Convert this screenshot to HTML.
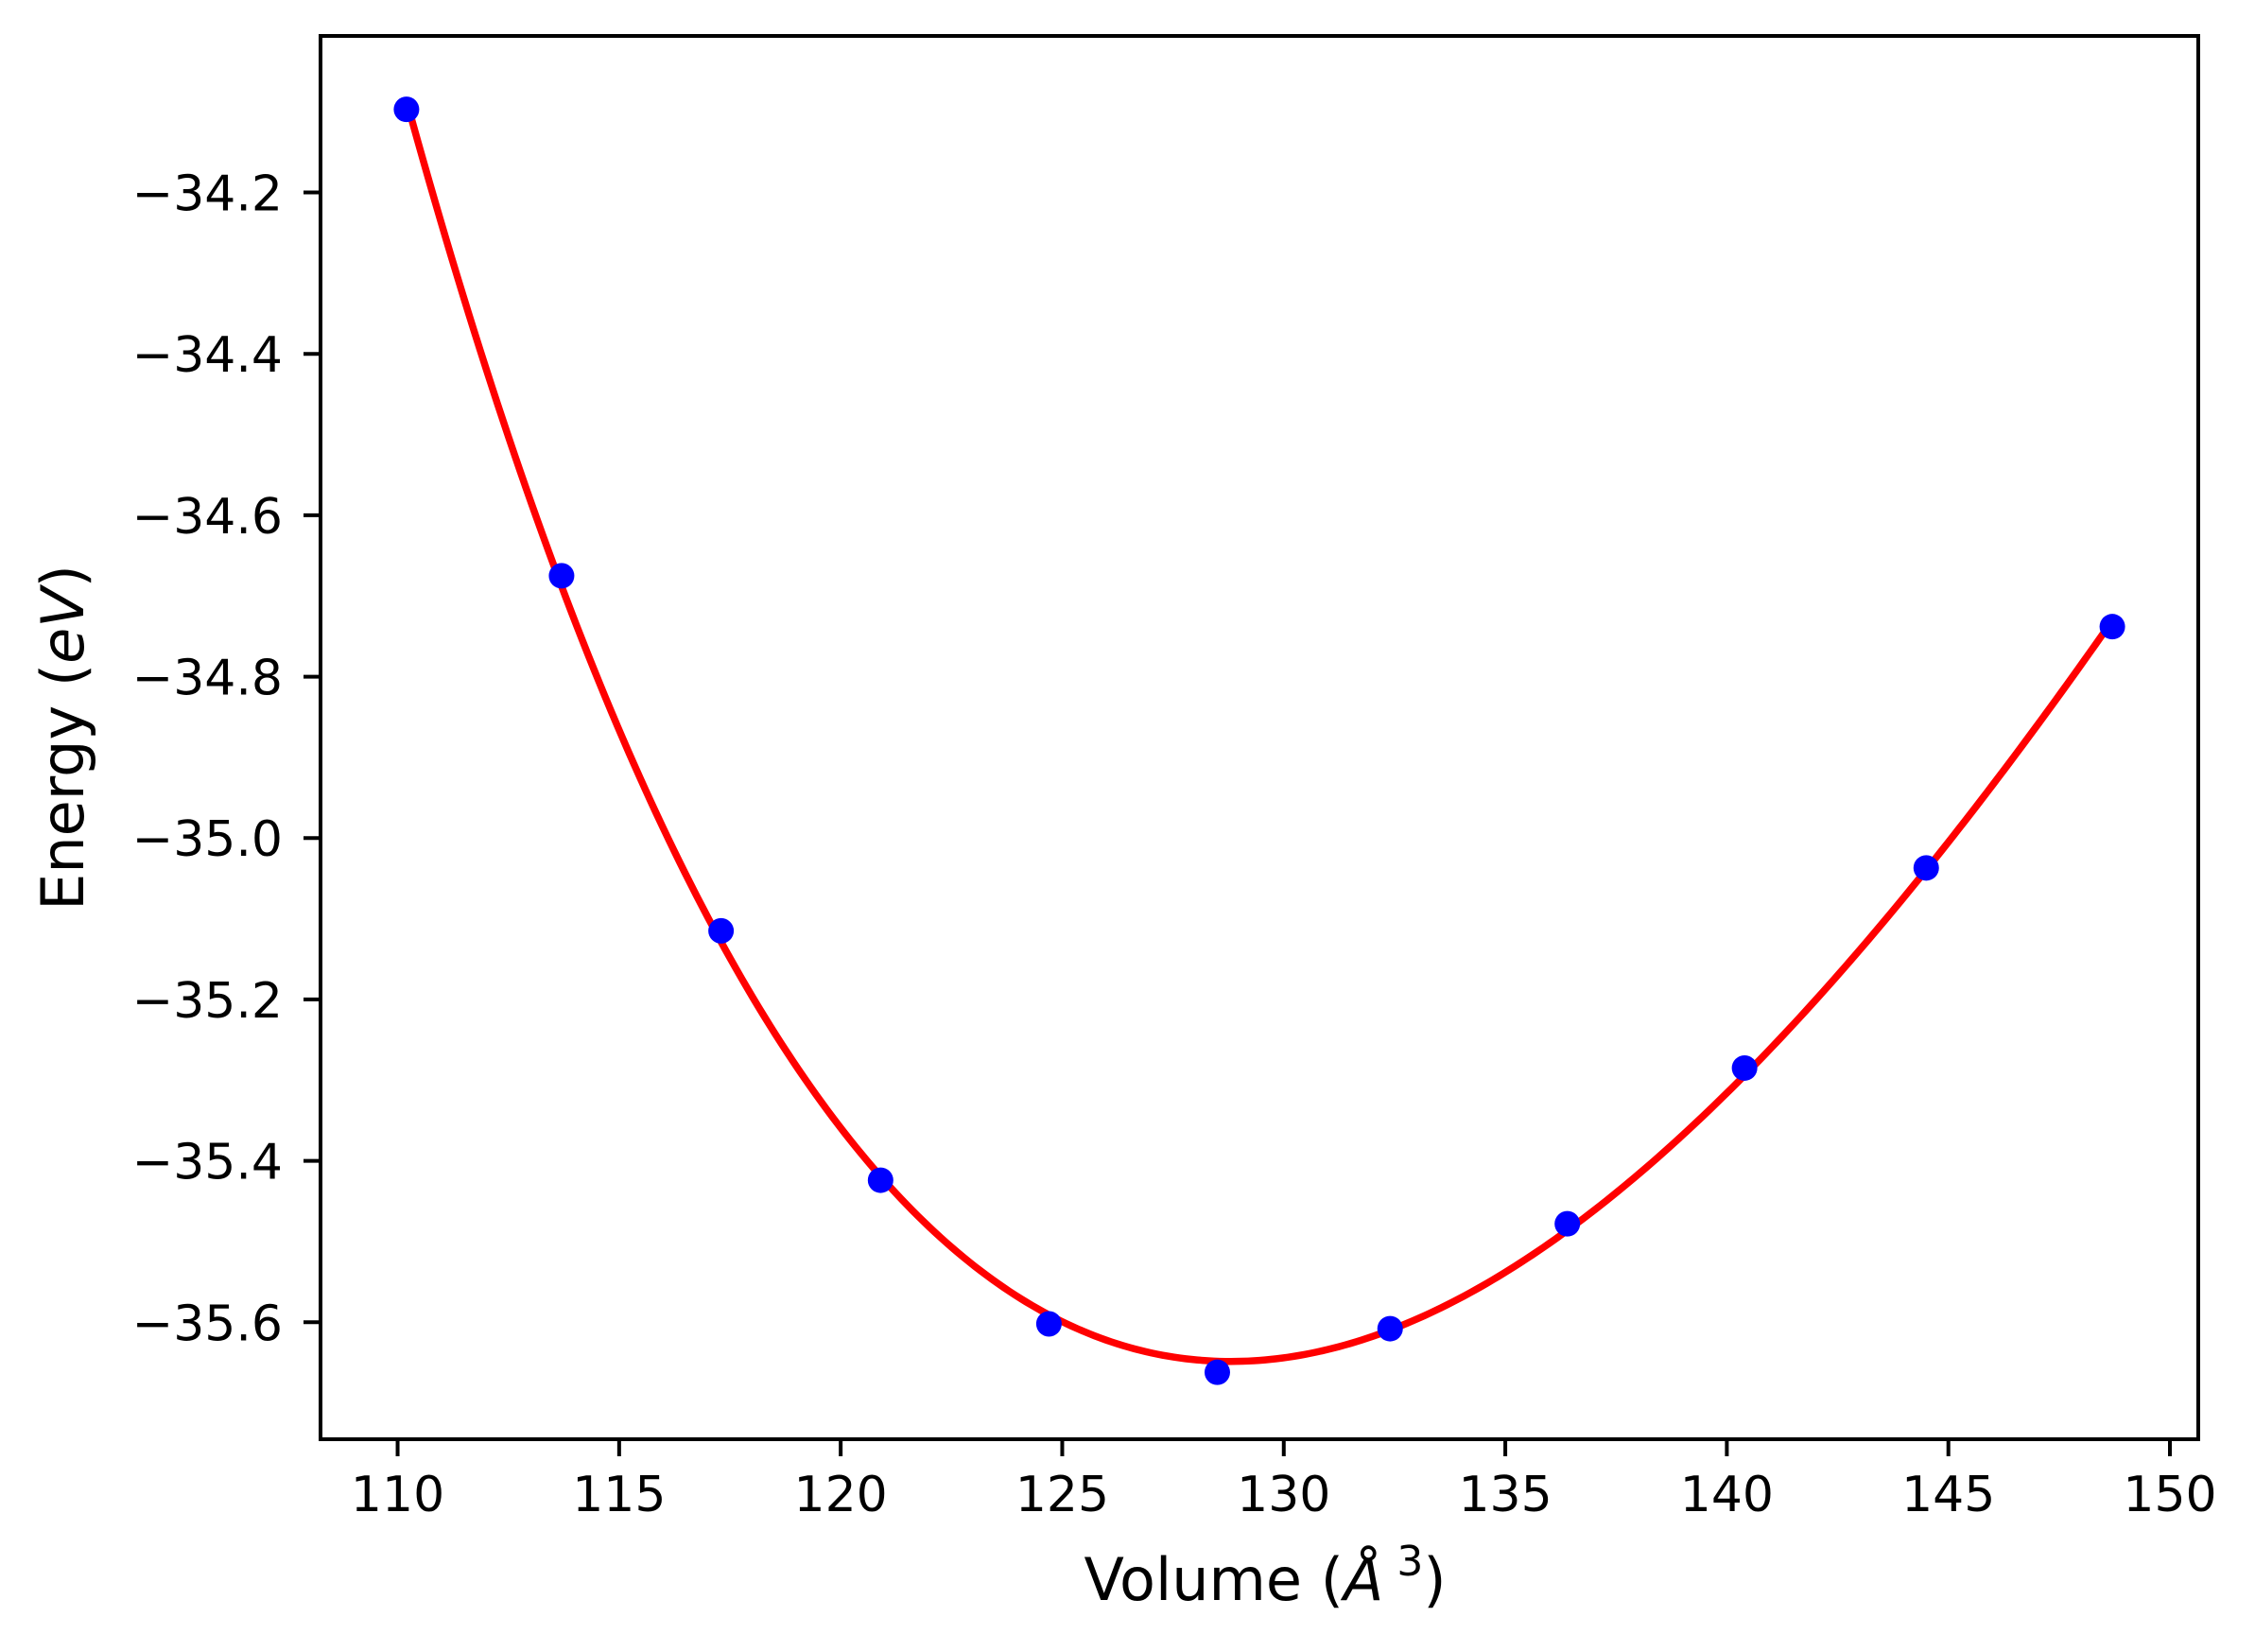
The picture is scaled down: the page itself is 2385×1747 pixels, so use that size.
<!DOCTYPE html>
<html><head><meta charset="utf-8"><style>
html,body{margin:0;padding:0;background:#fff;}
svg{display:block;font-family:"DejaVu Sans","Liberation Sans",sans-serif;}
</style></head><body>
<svg id="chart" width="2385" height="1747" viewBox="0 0 2385 1747" xmlns="http://www.w3.org/2000/svg">
<rect x="0" y="0" width="2385" height="1747" fill="#fff"/>
<g id="plot"></g>
<text x="1338" y="1692" font-size="62" text-anchor="middle">Volume (<tspan font-style="italic">Å</tspan><tspan dy="-26" font-size="44"> 3</tspan><tspan dy="26">)</tspan></text>
<text transform="translate(88,780) rotate(-90)" font-size="62" text-anchor="middle">Energy (<tspan font-style="italic">eV</tspan>)</text>
</svg>
<script>
const volumes = [110.2, 113.7, 117.3, 120.9, 124.7, 128.5, 132.4, 136.4, 140.4, 144.5, 148.7];
const energies = [-34.097, -34.675, -35.115, -35.424, -35.602, -35.662, -35.608, -35.478, -35.285, -35.037, -34.738];
const xTicks = [110, 115, 120, 125, 130, 135, 140, 145, 150];
const yTicks = [-34.2, -34.4, -34.6, -34.8, -35.0, -35.2, -35.4, -35.6];
const yTickLabels = ["\u221234.2", "\u221234.4", "\u221234.6", "\u221234.8", "\u221235.0", "\u221235.2", "\u221235.4", "\u221235.6"];

const L = 339, R = 2325, T = 38, B = 1522;
const xmin = 108.26, xmax = 150.64;
const ymin = -35.745, ymax = -34.006;
const X = v => L + (v - xmin) / (xmax - xmin) * (R - L);
const Y = e => B - (e - ymin) / (ymax - ymin) * (B - T);
const NS = "http://www.w3.org/2000/svg";
const g = document.getElementById("plot");
function mk(tag, attrs) { const el = document.createElementNS(NS, tag); for (const k in attrs) el.setAttribute(k, attrs[k]); g.appendChild(el); return el; }

const us = volumes.map(v => Math.pow(v, -2/3));
const um = us.reduce((a, b) => a + b, 0) / us.length;
const us2 = us.map(u => (u - um) * 1000);
const n = 4;
const A = Array.from({length: n}, () => new Array(n + 1).fill(0));
for (let i = 0; i < us2.length; i++) {
  const p = []; for (let k = 0; k < n; k++) p.push(Math.pow(us2[i], k));
  for (let r = 0; r < n; r++) { for (let c = 0; c < n; c++) A[r][c] += p[r] * p[c]; A[r][n] += p[r] * energies[i]; }
}
for (let c = 0; c < n; c++) {
  let piv = c; for (let r = c + 1; r < n; r++) if (Math.abs(A[r][c]) > Math.abs(A[piv][c])) piv = r;
  [A[c], A[piv]] = [A[piv], A[c]];
  for (let r = 0; r < n; r++) { if (r === c) continue; const f = A[r][c] / A[c][c]; for (let k = c; k <= n; k++) A[r][k] -= f * A[c][k]; }
}
const coef = A.map((row, i) => row[n] / row[i]);
const fitE = v => { const u = (Math.pow(v, -2/3) - um) * 1000; let s = 0; for (let k = 0; k < n; k++) s += coef[k] * Math.pow(u, k); return s; };

let d = "";
const v0 = Math.min(...volumes), v1 = Math.max(...volumes);
for (let i = 0; i <= 300; i++) { const v = v0 + (v1 - v0) * i / 300; d += (i ? "L" : "M") + X(v).toFixed(2) + "," + Y(fitE(v)).toFixed(2); }
const line = mk("path", {d: d, fill: "none", stroke: "#ff0000", "stroke-width": 7.5});



volumes.forEach((v, i) => {
  const c = mk("circle", {cx: X(v), cy: Y(energies[i]), r: 13.5, fill: "#0000ff"});
  
  
});

const frame = mk("rect", {x: L, y: T, width: R - L, height: B - T, fill: "none", stroke: "#000", "stroke-width": 4});



xTicks.forEach(t => {
  const tk = mk("line", {x1: X(t), x2: X(t), y1: B, y2: B + 18, stroke: "#000", "stroke-width": 4});
  
  
  const tx = mk("text", {x: X(t), y: B + 76, "font-size": 52, "text-anchor": "middle"});
  tx.textContent = String(t);
  
  
});
yTicks.forEach((t, i) => {
  const tk = mk("line", {x1: L - 18, x2: L, y1: Y(t), y2: Y(t), stroke: "#000", "stroke-width": 4});
  
  
  const tx = mk("text", {x: L - 40, y: Y(t) + 19, "font-size": 52, "text-anchor": "end"});
  tx.textContent = yTickLabels[i];
  
  
});
</script>
</body></html>
